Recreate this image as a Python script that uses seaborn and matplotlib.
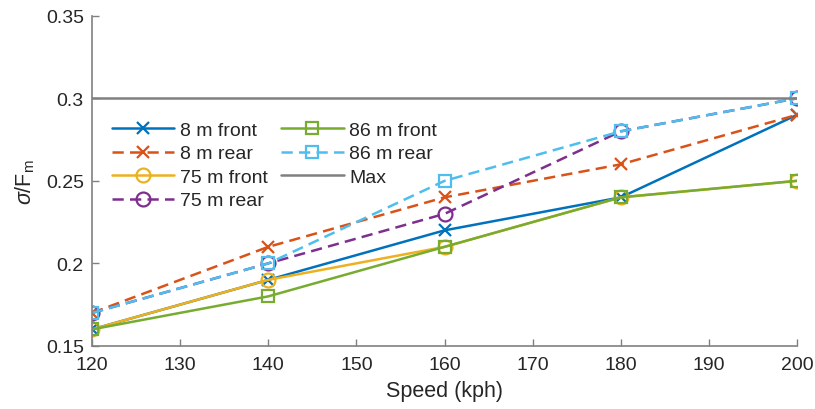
import matplotlib
matplotlib.use("Agg")
import matplotlib.pyplot as plt
import seaborn as sns
import pandas as pd

speed = [120, 140, 160, 180, 200]
front_8 = [0.16, 0.19, 0.22, 0.24, 0.29]
rear_8 = [0.17, 0.21, 0.24, 0.26, 0.29]
front_75 = [0.16, 0.19, 0.21, 0.24, 0.25]
rear_75 = [0.17, 0.20, 0.23, 0.28, 0.30]
front_86 = [0.16, 0.18, 0.21, 0.24, 0.25]
rear_86 = [0.17, 0.20, 0.25, 0.28, 0.30]
max_val = [0.30, 0.30, 0.30, 0.30, 0.30]

names = ["8 m front", "8 m rear", "75 m front", "75 m rear", "86 m front", "86 m rear", "Max"]
values = [front_8, rear_8, front_75, rear_75, front_86, rear_86, max_val]

styles = {
    "8 m front": dict(color="#0072BD", ls="-", marker="x", ms=8),
    "8 m rear": dict(color="#D95319", ls=(0, (4.5, 2.5)), marker="x", ms=8),
    "75 m front": dict(color="#EDB120", ls="-", marker="o", ms=10),
    "75 m rear": dict(color="#7E2F8E", ls=(0, (4.5, 2.5)), marker="o", ms=10),
    "86 m front": dict(color="#77AC30", ls="-", marker="s", ms=8),
    "86 m rear": dict(color="#4DBEEE", ls=(0, (4.5, 2.5)), marker="s", ms=8),
    "Max": dict(color="#808080", ls="-", marker=None, ms=0),
}

sns.set_style("white")
plt.rcParams['font.family'] = ['Liberation Sans', 'DejaVu Sans']
plt.rcParams['mathtext.fontset'] = 'custom'
plt.rcParams['mathtext.rm'] = 'Liberation Sans'
plt.rcParams['mathtext.it'] = 'Liberation Sans:italic'

fig = plt.figure(figsize=(8.15, 4.1), dpi=100)
ax = fig.add_axes([0.113, 0.154, 0.865, 0.805])

for name, vals in zip(names, values):
    st = styles[name]
    df = pd.DataFrame({"speed": speed, "val": vals})
    kw = {}
    if st["marker"]:
        kw = dict(marker=st["marker"], markersize=st["ms"], markerfacecolor="none",
                  markeredgecolor=st["color"], markeredgewidth=1.6)
    if name == "Max":
        df = pd.DataFrame({"speed": [115, 205], "val": [max_val[0], max_val[0]]})
    sns.lineplot(data=df, x="speed", y="val", ax=ax, color=st["color"],
                 linestyle=st["ls"], linewidth=1.8, label=name, **kw)

ax.set_xlim(120, 200)
ax.set_ylim(0.15, 0.35)
ax.set_xticks(range(120, 201, 10))
ax.set_yticks([0.15, 0.2, 0.25, 0.3, 0.35])
ax.set_yticklabels(["0.15", "0.2", "0.25", "0.3", "0.35"])
ax.set_xlabel("Speed (kph)", fontsize=15.5, labelpad=5)
ax.set_ylabel(r"$\it{\sigma}$/F$_{\rm m}$", fontsize=15.5, labelpad=6)
ax.tick_params(direction="in", length=5, labelsize=14, colors="#262626", width=1,
               top=False, right=False, bottom=True, left=True)
ax.tick_params(axis="x", pad=7)
ax.tick_params(axis="y", pad=6)
for side in ["top", "right"]:
    ax.spines[side].set_visible(False)
for side in ["left", "bottom"]:
    ax.spines[side].set_color("#808080")
    ax.spines[side].set_linewidth(1.2)
ax.tick_params(axis="both", color="#808080")

leg = ax.legend(ncol=2, loc="upper left", bbox_to_anchor=(0.028, 0.68), frameon=False,
                borderaxespad=0, borderpad=0, fontsize=14, handlelength=3.2,
                columnspacing=0.7, labelspacing=0.3, handletextpad=0.3)
fig.savefig("out.png", dpi=100)
